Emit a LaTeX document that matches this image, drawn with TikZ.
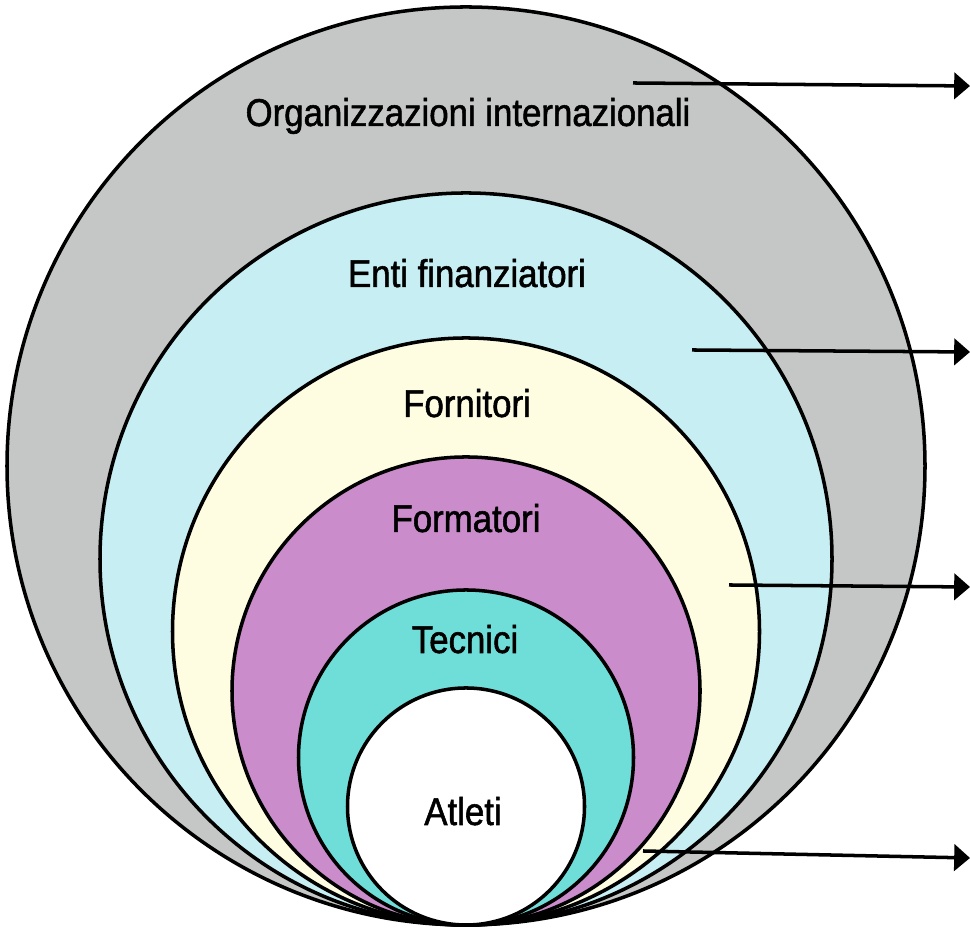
\documentclass[tikz,border=0pt]{standalone}
\usepackage{fontspec}
\setmainfont{Liberation Sans}[FakeStretch=0.9, FakeBold=1.4]
\usepackage{tikz}
\usetikzlibrary{arrows.meta, positioning}
\definecolor{orggray}{HTML}{C5C7C7}
\definecolor{entiblue}{HTML}{C6EEF3}
\definecolor{fornyellow}{HTML}{FEFDE2}
\definecolor{formpurple}{HTML}{CA8CCA}
\definecolor{tecnteal}{HTML}{6FDDD8}
\tikzset{
	ringnode/.style={
			circle,
			draw=black,
			line width=1pt,
			inner sep=0pt
		},
	labelnode/.style={
			anchor=base,
			inner sep=0pt,
			font=\fontsize{11}{13}\selectfont
		},
	arrowline/.style={
			line width=1pt,
			-{Triangle[length=4.5pt, width=7.5pt]}
		}
}

\begin{document}
\begin{tikzpicture}
\useasboundingbox (0,0) rectangle (9.70,9.28);

% nested rings, all touching at the bottom
\node[ringnode, fill=orggray, minimum size=9.18cm] (c1) at (4.66,4.62) {};
\node[ringnode, fill=entiblue, minimum size=7.32cm] (c2) at (4.66,3.69) {};
\node[ringnode, fill=fornyellow, minimum size=5.87cm] (c3) at (4.66,2.965) {};
\node[ringnode, fill=formpurple, minimum size=4.68cm] (c4) at (4.66,2.37) {};
\node[ringnode, fill=tecnteal, minimum size=3.35cm] (c5) at (4.66,1.705) {};
\node[ringnode, fill=white, minimum size=2.37cm] (c6) at (4.66,1.215) {};

\node[labelnode] (t1) at (4.68,8.02) {Organizzazioni internazionali};
\node[labelnode] (t2) at (4.67,6.41) {Enti finanziatori};
\node[labelnode] (t3) at (4.67,5.11) {Fornitori};
\node[labelnode] (t4) at (4.66,3.96) {Formatori};
\node[labelnode] (t5) at (4.65,2.75) {Tecnici};
\node[labelnode] (t6) at (4.63,1.03) {Atleti};

% pointers out to the right
\coordinate (s1) at (6.33,8.45);
\coordinate (e1) at (9.70,8.42);
\coordinate (s2) at (6.92,5.78);
\coordinate (e2) at (9.70,5.76);
\coordinate (s3) at (7.29,3.43);
\coordinate (e3) at (9.70,3.41);
\coordinate (s4) at (6.43,0.77);
\coordinate (e4) at (9.70,0.70);

\draw[arrowline] (s1) -- (e1);
\draw[arrowline] (s2) -- (e2);
\draw[arrowline] (s3) -- (e3);
\draw[arrowline] (s4) -- (e4);
\end{tikzpicture}
\end{document}
